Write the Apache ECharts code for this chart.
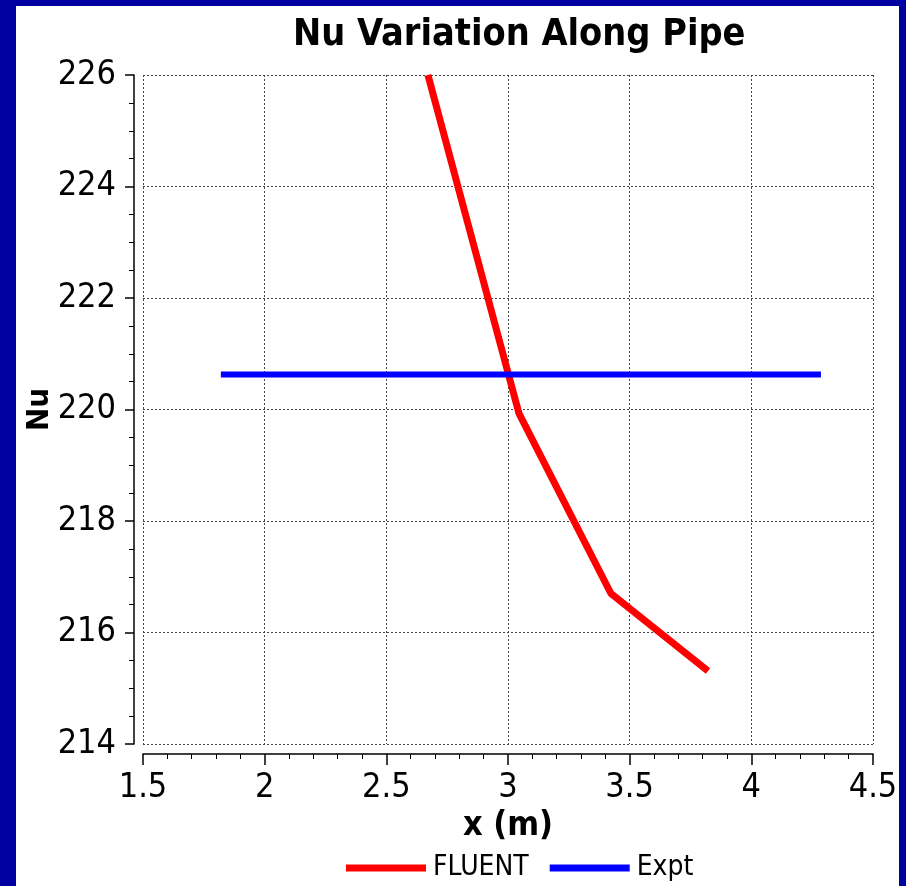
<!DOCTYPE html>
<html>
<head>
<meta charset="utf-8">
<script src="https://cdn.jsdelivr.net/npm/echarts@6/dist/echarts.min.js"></script>
<style>
  html, body { margin: 0; padding: 0; background: #0000a0; }
  #frame { position: absolute; left: 16px; top: 6px; width: 883px; height: 880px; background: #ffffff; }
  #chart { position: absolute; left: 0; top: 0; width: 906px; height: 886px; }
</style>
</head>
<body>
<div id="frame"></div>
<div id="chart"></div>
<script>
const titleText = 'Nu Variation Along Pipe';
const xName = 'x (m)';
const yName = 'Nu';
const seriesNames = ['FLUENT', 'Expt'];
const fluentX = [2.671, 3.045, 3.423, 3.822];
const fluentY = [226.0, 219.93, 216.70, 215.31];
const exptX = [1.82, 4.286];
const exptY = [220.63, 220.63];
const xMin = 1.5, xMax = 4.5, xStep = 0.5;
const yMin = 214, yMax = 226, yStep = 2;

const FONT = "'DejaVu Sans Condensed', 'DejaVu Sans', sans-serif";

const chart = echarts.init(document.getElementById('chart'), null, { renderer: 'canvas' });
chart.setOption({
  backgroundColor: 'transparent',
  animation: false,
  title: {
    text: titleText,
    left: 288, top: 11,
    textStyle: { fontFamily: FONT, fontWeight: 'bold', fontSize: 37.5, color: '#000' }
  },
  legend: {
    left: 341, top: 849,
    icon: 'rect',
    itemWidth: 80, itemHeight: 7,
    itemGap: 21,
    textStyle: { fontFamily: FONT, fontSize: 28, color: '#000', padding: [0, 0, 0, 2] },
    data: seriesNames
  },
  grid: { left: 143, right: 33, top: 75, bottom: 142, containLabel: false },
  xAxis: {
    type: 'value', min: xMin, max: xMax, interval: xStep,
    offset: 10,
    name: xName, nameLocation: 'middle', nameGap: 55,
    nameMoveOverlap: false,
    nameTextStyle: { fontFamily: FONT, fontWeight: 'bold', fontSize: 34, color: '#000' },
    axisLine: { show: true, onZero: false, lineStyle: { color: '#000', width: 1.5 } },
    axisTick: { show: true, inside: false, length: 11, lineStyle: { color: '#000', width: 1.5 } },
    minorTick: { show: true, splitNumber: 5, length: 5, lineStyle: { color: '#000', width: 1 } },
    axisLabel: { fontFamily: FONT, fontSize: 34, color: '#000', margin: 17 },
    splitLine: { show: true, lineStyle: { color: '#444', type: [2, 2], width: 1 } }
  },
  yAxis: {
    type: 'value', min: yMin, max: yMax, interval: yStep,
    offset: 9,
    name: yName, nameLocation: 'middle', nameGap: 79,
    nameMoveOverlap: false,
    nameTextStyle: { fontFamily: FONT, fontWeight: 'bold', fontSize: 31, color: '#000' },
    axisLine: { show: true, onZero: false, lineStyle: { color: '#000', width: 1.5 } },
    axisTick: { show: true, inside: false, length: 9, lineStyle: { color: '#000', width: 1.5 } },
    minorTick: { show: true, splitNumber: 4, length: 5, lineStyle: { color: '#000', width: 1 } },
    axisLabel: { fontFamily: FONT, fontSize: 34, color: '#000', margin: 18 },
    splitLine: { show: true, lineStyle: { color: '#444', type: [2, 2], width: 1 } }
  },
  series: [
    {
      name: seriesNames[0], type: 'line', showSymbol: false, symbol: 'none',
      data: fluentX.map((x, i) => [x, fluentY[i]]),
      lineStyle: { color: '#ff0000', width: 7 },
      itemStyle: { color: '#ff0000' }
    },
    {
      name: seriesNames[1], type: 'line', showSymbol: false, symbol: 'none',
      data: exptX.map((x, i) => [x, exptY[i]]),
      lineStyle: { color: '#0000ff', width: 6 },
      itemStyle: { color: '#0000ff' }
    }
  ]
});
</script>
</body>
</html>
